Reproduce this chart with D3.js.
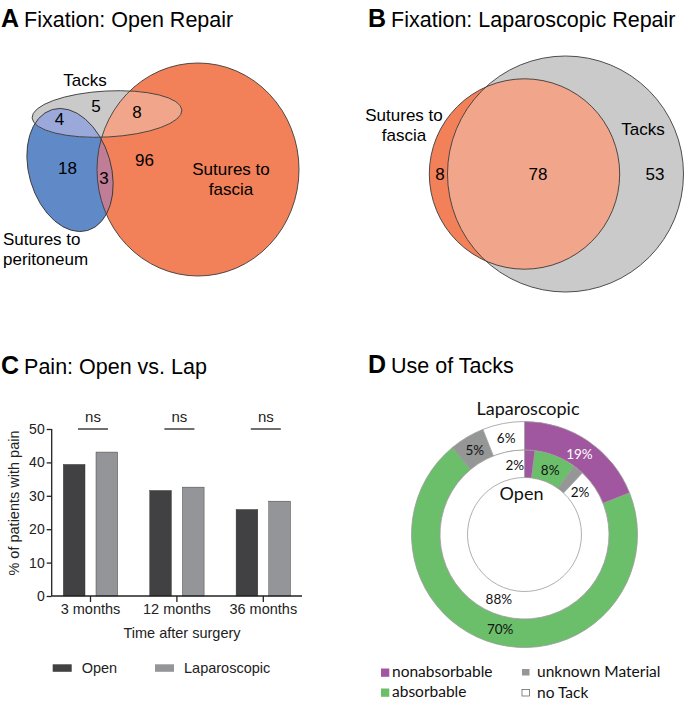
<!DOCTYPE html>
<html>
<head>
<meta charset="utf-8">
<script src="https://cdn.jsdelivr.net/npm/d3@7"></script>
<style>
  html, body { margin: 0; padding: 0; background: #fff; }
  svg { display: block; }
  .arial { font-family: "Liberation Sans", Arial, sans-serif; }
  .cal { font-family: Lato, "Open Sans", sans-serif; }
</style>
</head>
<body>
<svg id="chart" width="685" height="702"></svg>
<script>
// ---------- DATA ----------
// Panel A: Venn, open repair
const vennASets = ["Tacks", "Sutures to fascia", "Sutures to peritoneum"];
const vennARegions = ["Tacks only", "Tacks & fascia", "Tacks & peritoneum", "Peritoneum only", "Peritoneum & fascia", "Fascia only"];
const vennACounts = [5, 8, 4, 18, 3, 96];
// Panel B: Venn, laparoscopic repair
const vennBSets = ["Sutures to fascia", "Tacks"];
const vennBRegions = ["Fascia only", "Fascia & tacks", "Tacks only"];
const vennBCounts = [8, 78, 53];
// Panel C: pain bars
const painCategories = ["3 months", "12 months", "36 months"];
const painSeries = ["Open", "Laparoscopic"];
const painOpen = [39.4, 31.6, 25.9];
const painLap = [43.1, 32.6, 28.4];
const painTicks = [0, 10, 20, 30, 40, 50];
const sigLabels = ["ns", "ns", "ns"];
// Panel D: use of tacks (percent)
const tackCategories = ["nonabsorbable", "absorbable", "unknown Material", "no Tack"];
const tackLap = [19, 70, 5, 6];
const tackOpen = [2, 8, 2, 88];

// ---------- SETUP ----------
const svg = d3.select("#chart");
const defs = svg.append("defs");

function panelTitle(x, y, letter, text) {
  const t = svg.append("text").attr("class", "arial").attr("x", x).attr("y", y);
  t.append("tspan").attr("font-weight", "bold").attr("font-size", 25).text(letter);
  t.append("tspan").attr("font-size", 21.5).attr("dx", 5).text(text);
}
panelTitle(1, 27, "A", "Fixation: Open Repair");
panelTitle(368, 27, "B", "Fixation: Laparoscopic Repair");
panelTitle(1, 374, "C", "Pain: Open vs. Lap");
panelTitle(368, 373, "D", "Use of Tacks");

const outline = "#3c3c3c";

// ---------- PANEL A ----------
(function () {
  const g = svg.append("g");
  const shapes = {
    tacks: { cx: 107, cy: 114, rx: 75, ry: 23, rot: -3 },
    fascia: { cx: 198, cy: 169.5, rx: 101, ry: 106.5, rot: 0 },
    perit: { cx: 70, cy: 170, rx: 63, ry: 41, rot: 73.7 }
  };
  const tf = s => `translate(${s.cx},${s.cy}) rotate(${s.rot})`;
  Object.entries(shapes).forEach(([k, s]) => {
    defs.append("clipPath").attr("id", "clipA_" + k)
      .append("ellipse").attr("rx", s.rx).attr("ry", s.ry).attr("transform", tf(s));
  });
  const draw = (s, fill, clip) => {
    const holder = g.append("g");
    if (clip) holder.attr("clip-path", `url(#clipA_${clip})`);
    holder.append("ellipse").attr("rx", s.rx).attr("ry", s.ry)
      .attr("transform", tf(s)).attr("fill", fill);
  };
  draw(shapes.fascia, "#f28059");
  draw(shapes.perit, "#5f89c7");
  draw(shapes.tacks, "#c9cac9");
  draw(shapes.tacks, "#f1a68b", "fascia");
  draw(shapes.tacks, "#9aa9da", "perit");
  draw(shapes.perit, "#c07e96", "fascia");
  Object.values(shapes).forEach(s => {
    g.append("ellipse").attr("rx", s.rx).attr("ry", s.ry).attr("transform", tf(s))
      .attr("fill", "none").attr("stroke", outline).attr("stroke-width", 0.9);
  });
  // region counts
  const regionPos = [[96, 112], [137, 117.5], [59.5, 125], [67.5, 174], [104, 184], [144.5, 165.5]];
  g.selectAll("text.cnt").data(vennACounts).join("text")
    .attr("class", "arial cnt").attr("font-size", 17).attr("text-anchor", "middle")
    .attr("x", (d, i) => regionPos[i][0]).attr("y", (d, i) => regionPos[i][1]).text(d => d);
  // set labels
  g.append("text").attr("class", "arial").attr("font-size", 17).attr("text-anchor", "middle")
    .attr("x", 85).attr("y", 86).text(vennASets[0]);
  const fl = g.append("text").attr("class", "arial").attr("font-size", 17).attr("text-anchor", "middle");
  fl.append("tspan").attr("x", 231).attr("y", 175).text("Sutures to");
  fl.append("tspan").attr("x", 231).attr("y", 195).text("fascia");
  const pl = g.append("text").attr("class", "arial").attr("font-size", 17);
  pl.append("tspan").attr("x", 3).attr("y", 245).text("Sutures to");
  pl.append("tspan").attr("x", 3).attr("y", 265).text("peritoneum");
})();

// ---------- PANEL B ----------
(function () {
  const g = svg.append("g");
  const tacks = { cx: 565.5, cy: 174, r: 118 };
  const fascia = { cx: 524.5, cy: 174, r: 95.2 };
  defs.append("clipPath").attr("id", "clipB_tacks").append("circle")
    .attr("cx", tacks.cx).attr("cy", tacks.cy).attr("r", tacks.r);
  g.append("circle").attr("cx", tacks.cx).attr("cy", tacks.cy).attr("r", tacks.r).attr("fill", "#c9cac9");
  g.append("circle").attr("cx", fascia.cx).attr("cy", fascia.cy).attr("r", fascia.r).attr("fill", "#f28059");
  g.append("circle").attr("cx", fascia.cx).attr("cy", fascia.cy).attr("r", fascia.r)
    .attr("fill", "#f1a68c").attr("clip-path", "url(#clipB_tacks)");
  [tacks, fascia].forEach(c => g.append("circle").attr("cx", c.cx).attr("cy", c.cy).attr("r", c.r)
    .attr("fill", "none").attr("stroke", outline).attr("stroke-width", 0.9));
  const pos = [440, 538, 655];
  g.selectAll("text.cnt").data(vennBCounts).join("text")
    .attr("class", "arial cnt").attr("font-size", 17).attr("text-anchor", "middle")
    .attr("x", (d, i) => pos[i]).attr("y", 179.5).text(d => d);
  const fl = g.append("text").attr("class", "arial").attr("font-size", 17).attr("text-anchor", "middle");
  fl.append("tspan").attr("x", 404).attr("y", 120.5).text("Sutures to");
  fl.append("tspan").attr("x", 404).attr("y", 140.5).text("fascia");
  g.append("text").attr("class", "arial").attr("font-size", 17).attr("text-anchor", "middle")
    .attr("x", 643).attr("y", 134.5).text(vennBSets[1]);
})();

// ---------- PANEL C ----------
(function () {
  const g = svg.append("g").attr("class", "arial");
  const axisX = 51.7, y0 = 596, x1end = 302;
  const y = d3.scaleLinear().domain([0, 50]).range([596, 429]);
  const x0 = d3.scaleBand().domain(painCategories).range([47.3, 306.5]);
  const x1 = d3.scaleBand().domain(painSeries).range([16, 70.4]).paddingInner(0.336);
  const color = d3.scaleOrdinal().domain(painSeries).range(["#414042", "#939598"]);
  const rows = painCategories.map((c, i) => ({ cat: c, vals: [painOpen[i], painLap[i]] }));

  const grp = g.selectAll("g.grp").data(rows).join("g").attr("class", "grp")
    .attr("transform", d => `translate(${x0(d.cat)},0)`);
  grp.selectAll("rect").data(d => d.vals.map((v, j) => ({ s: painSeries[j], v })))
    .join("rect")
    .attr("x", d => x1(d.s)).attr("width", x1.bandwidth())
    .attr("y", d => y(d.v)).attr("height", d => y(0) - y(d.v))
    .attr("fill", d => color(d.s)).attr("stroke", "#2e2e2e").attr("stroke-width", 0.4);

  const ff = "Liberation Sans, Arial, sans-serif";
  // y axis
  const ya = g.append("g").attr("transform", `translate(${axisX},0)`)
    .call(d3.axisLeft(y).tickValues(painTicks).tickSize(5).tickPadding(2));
  ya.selectAll("text").attr("font-size", 14).attr("font-family", ff).attr("fill", "#222");
  ya.selectAll("line,path").attr("stroke", "#222").attr("stroke-width", 1.3);
  ya.select(".domain").attr("d", `M0,${y(50)}V${y0}`);

  // x axis
  const xa = g.append("g").attr("transform", `translate(0,${y0})`)
    .call(d3.axisBottom(x0).tickSize(6).tickPadding(2));
  xa.select(".domain").attr("d", `M${axisX},0H${x1end}`);
  xa.selectAll("text").attr("font-size", 14.5).attr("font-family", ff).attr("fill", "#222");
  xa.selectAll("line,path").attr("stroke", "#222").attr("stroke-width", 1.3);

  // significance
  painCategories.forEach((c, i) => {
    const cx = x0(c) + x0.bandwidth() / 2;
    g.append("line").attr("x1", cx - 12.5).attr("x2", cx + 17.5)
      .attr("y1", 429).attr("y2", 429).attr("stroke", "#222").attr("stroke-width", 1.3);
    g.append("text").attr("x", cx + 2.5).attr("y", 421.5).attr("text-anchor", "middle")
      .attr("font-size", 15).attr("fill", "#222").text(sigLabels[i]);
  });

  g.append("text").attr("transform", "translate(19,503) rotate(-90)").attr("text-anchor", "middle")
    .attr("font-size", 14.5).attr("fill", "#222").text("% of patients with pain");
  g.append("text").attr("x", 182).attr("y", 638).attr("text-anchor", "middle")
    .attr("font-size", 14.5).attr("fill", "#222").text("Time after surgery");

  const lx = [52.7, 155];
  painSeries.forEach((s, i) => {
    g.append("rect").attr("x", lx[i]).attr("y", 664.3).attr("width", 19).attr("height", 7.5).attr("fill", color(s));
    g.append("text").attr("x", lx[i] + 29).attr("y", 672.5).attr("font-size", 14.5).attr("fill", "#222").text(s);
  });
})();

// ---------- PANEL D ----------
(function () {
  const g = svg.append("g").attr("class", "cal");
  const cx = 524.5, cy = 534.5;
  const color = d3.scaleOrdinal().domain(tackCategories).range(["#a156a0", "#6bbf6a", "#959696", "#ffffff"]);
  const pie = d3.pie().sort(null).value(d => d.v);
  const rings = [
    { vals: tackLap, r0: 84.5, r1: 113 },
    { vals: tackOpen, r0: 57, r1: 84.5 }
  ];
  const labelNudge = [{}, { 0: -8, 2: 9.5 }]; // degrees, small slices labelled beside
  rings.forEach((ring, ri) => {
    const arcs = pie(ring.vals.map((v, i) => ({ k: tackCategories[i], v })));
    const arc = d3.arc().innerRadius(ring.r0).outerRadius(ring.r1);
    const rg = g.append("g").attr("transform", `translate(${cx},${cy})`);
    rg.selectAll("path").data(arcs).join("path").attr("d", arc)
      .attr("fill", d => color(d.data.k)).attr("stroke", "#9a9a9a").attr("stroke-width", 0.8);
    const rm = (ring.r0 + ring.r1) / 2 - 1;
    rg.selectAll("text").data(arcs).join("text")
      .attr("text-anchor", "middle").attr("dominant-baseline", "central")
      .attr("font-size", 13.5)
      .attr("fill", d => d.data.k === "nonabsorbable" && ri === 0 ? "#ffffff" : "#111")
      .attr("transform", (d, i) => {
        let a = (d.startAngle + d.endAngle) / 2;
        const n = labelNudge[ri][i];
        if (n) a = (n < 0 ? d.startAngle : d.endAngle) + n * Math.PI / 180;
        return `translate(${rm * Math.sin(a)},${-rm * Math.cos(a)})`;
      })
      .text(d => d.data.v + "%");
  });
  g.append("text").attr("x", 528).attr("y", 415).attr("text-anchor", "middle")
    .attr("font-size", 18).attr("fill", "#111").text("Laparoscopic");
  g.append("text").attr("x", 521.5).attr("y", 500).attr("text-anchor", "middle")
    .attr("font-size", 18).attr("fill", "#111").text("Open");

  // legend
  const lpos = [[381, 668.5], [381, 688.5], [522, 669], [522, 689.5]];
  const order = ["nonabsorbable", "absorbable", "unknown Material", "no Tack"];
  order.forEach((k, i) => {
    const [x, yy] = lpos[i];
    const isNo = k === "no Tack";
    const sz = (k === "unknown Material" || isNo) ? 7.5 : 8.3;
    g.append("rect").attr("x", x).attr("y", yy).attr("width", sz).attr("height", isNo ? 6.5 : sz - (k === "unknown Material" ? 1 : 0))
      .attr("fill", color(k)).attr("stroke", isNo ? "#555" : "none").attr("stroke-width", 0.7);
    g.append("text").attr("x", x + (i < 2 ? 11 : 15)).attr("y", yy + 8).attr("font-size", 15.5)
      .attr("fill", "#111").text(k);
  });
})();
</script>
</body>
</html>
